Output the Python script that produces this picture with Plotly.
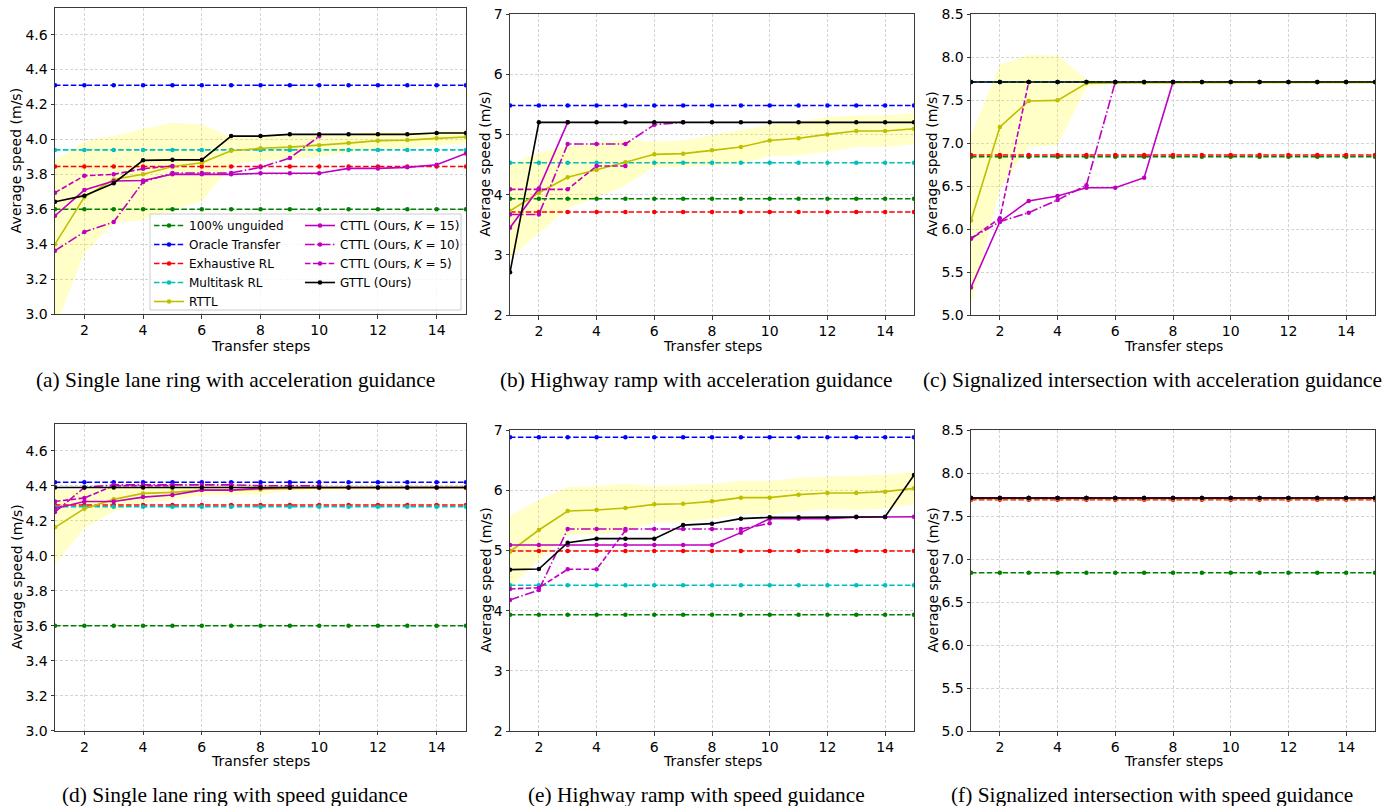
import plotly.graph_objects as go

W, H = 1396, 806
steps = list(range(1, 16))

# ---------------- data ----------------
panels = ["a", "b", "c", "d", "e", "f"]
unguided = [3.60, 3.93, 6.84, 3.60, 3.93, 6.84]
oracle = [4.31, 5.48, 7.71, 4.42, 6.88, 7.71]
exhaustive = [3.845, 3.71, 6.86, 4.29, 4.99, 7.69]
multitask = [3.94, 4.53, 7.71, 4.28, 4.42, 7.71]

rttl_a = [3.40, 3.67, 3.77, 3.80, 3.845, 3.866, 3.935, 3.949, 3.956, 3.966, 3.979, 3.993, 3.996, 4.006, 4.014]
rttl_std_a = [0.48, 0.32, 0.25, 0.26, 0.25, 0.22, 0.08, 0.07, 0.07, 0.065, 0.055, 0.05, 0.045, 0.04, 0.035]
cttl15_a = [3.563, 3.71, 3.762, 3.765, 3.80, 3.80, 3.80, 3.806, 3.806, 3.806, 3.834, 3.834, 3.84, 3.855, 3.92]
cttl10_a = [3.363, 3.47, 3.527, 3.756, 3.808, 3.808, 3.808, 3.84, 3.893, 4.018]
cttl5_a = [3.695, 3.792, 3.80, 3.832, 3.848]
gttl_a = [3.643, 3.678, 3.749, 3.880, 3.883, 3.883, 4.019, 4.019, 4.029, 4.029, 4.029, 4.029, 4.029, 4.037, 4.037]

rttl_b = [3.73, 4.03, 4.287, 4.41, 4.536, 4.669, 4.68, 4.735, 4.79, 4.90, 4.935, 5.00, 5.056, 5.056, 5.095]
rttl_std_b = [0.78, 0.67, 0.51, 0.46, 0.38, 0.21, 0.22, 0.25, 0.28, 0.26, 0.28, 0.29, 0.26, 0.26, 0.26]
cttl15_b = [3.45, 4.10, 5.20]
cttl10_b = [3.67, 3.67, 4.84, 4.84, 4.84, 5.16, 5.20]
cttl5_b = [4.087, 4.087, 4.087, 4.475, 4.475]
gttl_b = [2.71, 5.20, 5.20, 5.20, 5.20, 5.20, 5.20, 5.20, 5.20, 5.20, 5.20, 5.20, 5.20, 5.20, 5.20]

rttl_c = [6.10, 7.186, 7.488, 7.496, 7.694, 7.70, 7.70, 7.70, 7.705, 7.705, 7.705, 7.705, 7.705, 7.705, 7.705]
rttl_std_c = [0.99, 0.72, 0.535, 0.52, 0.045, 0.01, 0.01, 0.01, 0.01, 0.01, 0.01, 0.01, 0.01, 0.01, 0.01]
cttl15_c = [5.32, 6.085, 6.326, 6.384, 6.48, 6.48, 6.597, 7.71]
cttl10_c = [5.89, 6.085, 6.19, 6.337, 6.51, 7.71]
cttl5_c = [5.89, 6.124, 7.71]
gttl_c = [7.71, 7.71, 7.71, 7.71, 7.71, 7.71, 7.71, 7.71, 7.71, 7.71, 7.71, 7.71, 7.71, 7.71, 7.71]

rttl_d = [4.162, 4.269, 4.322, 4.356, 4.362, 4.375, 4.375, 4.379, 4.387, 4.387, 4.388, 4.388, 4.389, 4.389, 4.39]
rttl_std_d = [0.21, 0.11, 0.07, 0.05, 0.045, 0.03, 0.03, 0.03, 0.015, 0.01, 0.01, 0.01, 0.01, 0.01, 0.01]
cttl15_d = [4.27, 4.31, 4.31, 4.335, 4.347, 4.375, 4.375, 4.385, 4.39, 4.39, 4.39, 4.39, 4.39, 4.39, 4.39]
cttl10_d = [4.25, 4.39, 4.405, 4.405, 4.405, 4.405, 4.405, 4.40, 4.40, 4.40]
cttl5_d = [4.31, 4.33, 4.40, 4.40, 4.40]
gttl_d = [4.39, 4.39, 4.39, 4.39, 4.39, 4.39, 4.39, 4.39, 4.39, 4.39, 4.39, 4.39, 4.39, 4.39, 4.39]

rttl_e = [4.98, 5.339, 5.654, 5.671, 5.704, 5.765, 5.776, 5.815, 5.876, 5.876, 5.926, 5.953, 5.953, 5.976, 6.031]
rttl_std_e = [0.60, 0.50, 0.40, 0.40, 0.40, 0.30, 0.31, 0.29, 0.28, 0.28, 0.28, 0.27, 0.28, 0.28, 0.27]
cttl15_e = [5.09, 5.09, 5.09, 5.09, 5.09, 5.09, 5.09, 5.09, 5.295, 5.527, 5.527, 5.527, 5.55, 5.55, 5.56]
cttl10_e = [4.176, 4.342, 5.355, 5.355, 5.355, 5.355, 5.355, 5.355, 5.355, 5.45]
cttl5_e = [4.359, 4.38, 4.686, 4.686, 5.33]
gttl_e = [4.68, 4.69, 5.128, 5.195, 5.195, 5.195, 5.42, 5.444, 5.527, 5.549, 5.549, 5.549, 5.56, 5.56, 6.252]

rttl_f = [7.70, 7.70, 7.70, 7.70, 7.70, 7.70, 7.70, 7.70, 7.70, 7.70, 7.70, 7.70, 7.70, 7.70, 7.70]
rttl_std_f = [0.005, 0.005, 0.005, 0.005, 0.005, 0.005, 0.005, 0.005, 0.005, 0.005, 0.005, 0.005, 0.005, 0.005, 0.005]
cttl15_f = [7.71, 7.71, 7.71, 7.71, 7.71, 7.71, 7.71, 7.71, 7.71, 7.71, 7.71, 7.71, 7.71, 7.71, 7.71]
cttl10_f = [7.71, 7.71, 7.71, 7.71, 7.71, 7.71, 7.71, 7.71, 7.71, 7.71]
cttl5_f = [7.71, 7.71, 7.71, 7.71, 7.71]
gttl_f = [7.71, 7.71, 7.71, 7.71, 7.71, 7.71, 7.71, 7.71, 7.71, 7.71, 7.71, 7.71, 7.71, 7.71, 7.71]

rttl = [rttl_a, rttl_b, rttl_c, rttl_d, rttl_e, rttl_f]
rttl_std = [rttl_std_a, rttl_std_b, rttl_std_c, rttl_std_d, rttl_std_e, rttl_std_f]
cttl15 = [cttl15_a, cttl15_b, cttl15_c, cttl15_d, cttl15_e, cttl15_f]
cttl10 = [cttl10_a, cttl10_b, cttl10_c, cttl10_d, cttl10_e, cttl10_f]
cttl5 = [cttl5_a, cttl5_b, cttl5_c, cttl5_d, cttl5_e, cttl5_f]
gttl = [gttl_a, gttl_b, gttl_c, gttl_d, gttl_e, gttl_f]

y_ranges = [[3.0, 4.751], [2, 7], [5.0, 8.5], [3.0, 4.751], [2, 7], [5.0, 8.5]]
y_ticks = [[3.0, 3.2, 3.4, 3.6, 3.8, 4.0, 4.2, 4.4, 4.6], [2, 3, 4, 5, 6, 7],
           [5.0, 5.5, 6.0, 6.5, 7.0, 7.5, 8.0, 8.5]]
y_ticks = y_ticks + y_ticks
y_fmt = [".1f", "d", ".1f", ".1f", "d", ".1f"]
x_ticks = [2, 4, 6, 8, 10, 12, 14]

captions = ["(a) Single lane ring with acceleration guidance",
            "(b) Highway ramp with acceleration guidance",
            "(c) Signalized intersection with acceleration guidance",
            "(d) Single lane ring with speed guidance",
            "(e) Highway ramp with speed guidance",
            "(f) Signalized intersection with speed guidance"]

# axes boxes in pixels: (left, right, top, bottom)
boxes = [(55, 466, 8.3, 314), (510, 914, 14, 315), (971, 1375, 14, 315),
         (55, 466, 424.3, 730.7), (510, 914, 430, 731), (971, 1375, 430, 731)]
ytitle_x = [16, 485, 932, 16, 485, 932]
caption_x = [235, 696, 1152, 235, 696, 1152]
row_xtitle_y = [346, 346, 346, 761, 761, 761]
row_caption_y = [380, 380, 380, 795, 795, 795]


def px(x):
    return x / W


def py(y):
    return 1 - y / H


GREEN, BLUE, RED, CYAN = "#008000", "#0000ff", "#ff0000", "#00bfbf"
YEL, MAG, BLACK = "#bfbf00", "#bf00bf", "#000000"
DASH = "5.5px,2.4px"
DASHDOT = "9.6px,2.4px,1.5px,2.4px"
FONT = "DejaVu Sans"
LW = 1.6
MS = 4.5

fig = go.Figure()

for i, p in enumerate(panels):
    ax = "" if i == 0 else str(i + 1)
    xa, ya = "x" + ax, "y" + ax
    first = i == 0
    n = len(steps)
    # band (mean +/- std)
    up = [m + s for m, s in zip(rttl[i], rttl_std[i])]
    lo = [m - s for m, s in zip(rttl[i], rttl_std[i])]
    fig.add_trace(go.Scatter(x=steps + steps[::-1], y=up + lo[::-1], fill="toself",
                             fillcolor="rgba(255,255,0,0.22)", line=dict(width=0),
                             mode="lines", showlegend=False, hoverinfo="skip",
                             xaxis=xa, yaxis=ya))

    def add(y, name, color, dash, leg, rank):
        fig.add_trace(go.Scatter(
            x=steps[:len(y)], y=y, name=name, mode="lines+markers",
            line=dict(color=color, width=LW, dash=dash),
            marker=dict(color=color, size=MS),
            showlegend=first, legend=leg, legendrank=rank,
            xaxis=xa, yaxis=ya))

    add([unguided[i]] * n, "100% unguided", GREEN, DASH, "legend", 1)
    add([oracle[i]] * n, "Oracle Transfer", BLUE, DASH, "legend", 2)
    add([exhaustive[i]] * n, "Exhaustive RL", RED, DASH, "legend", 3)
    add([multitask[i]] * n, "Multitask RL", CYAN, DASH, "legend", 4)
    add(rttl[i], "RTTL", YEL, "solid", "legend", 5)
    add(cttl15[i], "CTTL (Ours, <i>K</i> = 15)", MAG, "solid", "legend2", 6)
    add(cttl10[i], "CTTL (Ours, <i>K</i> = 10)", MAG, DASHDOT, "legend2", 7)
    add(cttl5[i], "CTTL (Ours, <i>K</i> = 5)", MAG, DASH, "legend2", 8)
    add(gttl[i], "GTTL (Ours)", BLACK, "solid", "legend2", 9)

layout = dict(width=W, height=H, margin=dict(l=0, r=0, t=0, b=0),
              plot_bgcolor="white", paper_bgcolor="white",
              font=dict(family=FONT, size=14, color="black"))

axis_common = dict(showline=True, mirror=True, linecolor="#3a3a3a", linewidth=1,
                   ticks="outside", ticklen=3.5, tickwidth=1, tickcolor="#3a3a3a",
                   showgrid=True, gridcolor="#d4d4d4", griddash="3px,2px", gridwidth=1,
                   zeroline=False, automargin=False,
                   tickfont=dict(family=FONT, size=14, color="black"))

annotations = []
for i in range(6):
    ax = "" if i == 0 else str(i + 1)
    l, r, t, b = boxes[i]
    layout["xaxis" + ax] = dict(axis_common, domain=[px(l), px(r)], range=[1, 15],
                                tickvals=x_ticks, anchor="y" + ax)
    layout["yaxis" + ax] = dict(axis_common, domain=[py(b), py(t)], range=y_ranges[i],
                                tickvals=y_ticks[i], tickformat=y_fmt[i], anchor="x" + ax)
    annotations.append(dict(text="Average speed (m/s)", x=px(ytitle_x[i]), y=py((t + b) / 2),
                            xref="paper", yref="paper", textangle=-90, showarrow=False,
                            font=dict(family=FONT, size=14, color="black"),
                            xanchor="center", yanchor="middle"))
    annotations.append(dict(text="Transfer steps", x=px((l + r) / 2), y=py(row_xtitle_y[i]),
                            xref="paper", yref="paper", showarrow=False,
                            font=dict(family=FONT, size=14, color="black"),
                            xanchor="center", yanchor="middle"))
    annotations.append(dict(text=captions[i], x=px(caption_x[i]), y=py(row_caption_y[i]),
                            xref="paper", yref="paper", showarrow=False,
                            font=dict(family="Liberation Serif", size=21.4, color="black"),
                            xanchor="center", yanchor="middle"))

layout["annotations"] = annotations
leg_common = dict(bgcolor="rgba(0,0,0,0)", borderwidth=0, xanchor="left", yanchor="top",
                  font=dict(family=FONT, size=12, color="black"), itemwidth=30,
                  orientation="v", tracegroupgap=0)
layout["legend"] = dict(leg_common, x=px(149), y=py(211))
layout["legend2"] = dict(leg_common, x=px(300), y=py(211))
layout["shapes"] = [dict(type="rect", xref="paper", yref="paper",
                         x0=px(150), x1=px(461), y0=py(310), y1=py(214),
                         fillcolor="rgba(255,255,255,0.8)", line=dict(color="#cccccc", width=1),
                         layer="above")]

fig.update_layout(**layout)
fig.write_html("out.html")
